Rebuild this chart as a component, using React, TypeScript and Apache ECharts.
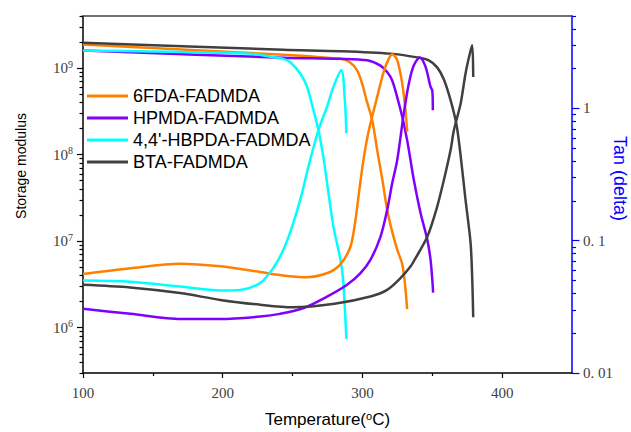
import React, { useEffect, useRef } from 'react';
import * as echarts from 'echarts';

const names = ['6FDA-FADMDA', 'HPMDA-FADMDA', "4,4'-HBPDA-FADMDA", 'BTA-FADMDA'];
const colors = ['#FF8000', '#8000FF', '#00FFFF', '#404040'];

// Storage modulus (Pa) vs temperature (°C)
const fdaStorT = [100, 243, 284, 291, 296.2, 299.8, 302.9, 307, 310.8, 314.3, 317.7, 321.3, 324.9, 328.5, 330.5, 332];
const fdaStor = [1.87e9, 1.43e9, 1.28e9, 1.17e9, 9.4e8, 6.6e8, 4.26e8, 2.5e8, 1.07e8, 5.1e7, 2.31e7, 1.29e7, 8.0e6, 5.4e6, 3.16e6, 1.64e6];
const hpStorT = [100, 243, 284, 303.4, 312.9, 317.7, 321.3, 324.9, 328.5, 332, 334.4, 336.8, 341.6, 346.4, 348.7, 350, 350.6];
const hpStor = [1.6e9, 1.32e9, 1.28e9, 1.23e9, 1.07e9, 9.0e8, 7.2e8, 4.6e8, 2.74e8, 1.47e8, 8.7e7, 5.1e7, 2.12e7, 1.05e7, 6.2e6, 3.6e6, 2.55e6];
const hbStorT = [100, 219.7, 236.2, 243.4, 248.4, 255.6, 260.4, 264.9, 268.5, 272, 274.7, 279.2, 284.2, 286.2, 288.5];
const hbStor = [1.6e9, 1.47e9, 1.34e9, 1.28e9, 1.17e9, 8.6e8, 6.05e8, 3.27e8, 1.92e8, 9.5e7, 4.7e7, 1.49e7, 6.2e6, 3.6e6, 7.4e5];
const btaStorT = [100, 243.4, 284.2, 320, 339.2, 347.5, 353.5, 358.3, 363.1, 367.4, 370.3, 373.8, 377.4, 378.6, 379.3];
const btaStor = [1.96e9, 1.63e9, 1.57e9, 1.47e9, 1.33e9, 1.23e9, 1.02e9, 7.4e8, 4.26e8, 2.19e8, 9.7e7, 3.0e7, 9.6e6, 3.63e6, 1.32e6];

// Tan (delta) vs temperature (°C)
const fdaTanT = [100, 134, 170, 198, 227, 241, 260, 275, 284, 291.4, 295, 297.8, 300.7, 304.3, 310.5, 315.3, 318.9, 321.3, 324.9, 328.5, 330.8, 332];
const fdaTan = [0.056, 0.062, 0.067, 0.064, 0.058, 0.055, 0.053, 0.057, 0.066, 0.09, 0.1435, 0.242, 0.407, 0.662, 1.217, 1.91, 2.38, 2.57, 2.32, 1.54, 0.97, 0.666];
const hpTanT = [100, 134, 170, 198, 227, 241, 258, 275, 289, 298.6, 305.7, 312.9, 317.7, 321.3, 324.9, 329.6, 333.2, 336.8, 341.1, 345.2, 348.7, 350, 350.4];
const hpTan = [0.0306, 0.028, 0.0256, 0.0256, 0.0267, 0.028, 0.031, 0.0379, 0.0464, 0.0569, 0.0716, 0.107, 0.171, 0.272, 0.407, 0.917, 1.54, 2.12, 2.43, 2.06, 1.46, 1.37, 0.97];
const hbTanT = [100, 133.7, 169.5, 198.2, 212.5, 226.9, 236.2, 243.4, 250.5, 256.8, 261.3, 268.5, 274.7, 279.2, 284.9, 287.4, 288.5];
const hbTan = [0.05, 0.049, 0.045, 0.042, 0.0425, 0.048, 0.0623, 0.0853, 0.136, 0.23, 0.362, 0.686, 1.03, 1.455, 1.945, 1.16, 0.651];
const btaTanT = [100, 133.7, 169.5, 198.2, 226.9, 250, 280, 305.7, 317.7, 327.2, 334.4, 337.3, 346.4, 353.5, 358.3, 363.1, 365.5, 370.3, 373.8, 376.9, 378.6, 379.3];
const btaTan = [0.0464, 0.0443, 0.0402, 0.0357, 0.0328, 0.0314, 0.0334, 0.0379, 0.0425, 0.0521, 0.0638, 0.0716, 0.107, 0.181, 0.288, 0.485, 0.686, 1.09, 1.84, 2.6, 3.0, 1.73];

// Axis ticks
const xMajorTicks = [100, 200, 300, 400];
const xMinorTicks = [150, 250, 350];
const leftMajorTicks = [1e6, 1e7, 1e8, 1e9];
const rightMajorTicks = [0.01, 0.1, 1];
const rightTickLabels = ['0. 01', '0. 1', '1'];

const X_MIN = 100, X_MAX = 450;
const L_MIN = 3e5, L_MAX = 4e9;
const R_MIN = 0.01, R_MAX = 5;

const leftMinor: number[] = [];
for (let e = 5; e <= 9; e++) for (let m = 2; m <= 9; m++) {
  const v = m * Math.pow(10, e);
  if (v >= L_MIN && v <= L_MAX) leftMinor.push(v);
}
const rightMinor: number[] = [];
for (let e = -2; e <= 0; e++) for (let m = 2; m <= 9; m++) {
  const v = m * Math.pow(10, e);
  if (v >= R_MIN && v <= R_MAX * 1.0001) rightMinor.push(v);
}

const zip = (xs: number[], ys: number[]) => xs.map((x, i) => [x, ys[i]]);

const storSets = [[fdaStorT, fdaStor], [hpStorT, hpStor], [hbStorT, hbStor], [btaStorT, btaStor]];
const tanSets = [[fdaTanT, fdaTan], [hpTanT, hpTan], [hbTanT, hbTan], [btaTanT, btaTan]];

const labelFont = 'Liberation Serif';
const sansFont = 'Liberation Sans';

export default function App() {
  const ref = useRef<HTMLDivElement>(null);
  useEffect(() => {
    document.body.style.margin = '0';
    const chart = echarts.init(ref.current!, null, { renderer: 'svg' });
    const series: any[] = [];
    storSets.forEach((s, i) => {
      series.push({
        name: names[i], type: 'line', xAxisIndex: 0, yAxisIndex: 0,
        data: zip(s[0], s[1]), showSymbol: false, symbol: 'none', smooth: 0.3,
        lineStyle: { width: 2.5, color: colors[i] }, itemStyle: { color: colors[i] },
      });
    });
    tanSets.forEach((s, i) => {
      series.push({
        name: names[i], type: 'line', xAxisIndex: 0, yAxisIndex: 2,
        data: zip(s[0], s[1]), showSymbol: false, symbol: 'none', smooth: 0.3,
        lineStyle: { width: 2.5, color: colors[i] }, itemStyle: { color: colors[i] },
      });
    });
    const hidden = { show: false };
    const ghostLine = { show: true, onZero: false, lineStyle: { color: 'rgba(0,0,0,0)', width: 0 } };
    const ghostY = (pos: string, min: number, max: number, ticks: number[], len: number, color: string) => ({
      type: 'log', position: pos, min, max, logBase: 10,
      axisLine: ghostLine,
      axisTick: { show: true, inside: false, customValues: ticks, length: len, lineStyle: { color, width: 1.2 } },
      axisLabel: hidden, splitLine: hidden,
    });
    chart.setOption({
      animation: false,
      backgroundColor: '#fff',
      grid: { left: 83, right: 59, top: 16, bottom: 59, containLabel: false, outerBoundsMode: 'none' },
      legend: {
        data: names, orient: 'vertical', left: 87, top: 87, padding: 0,
        icon: 'rect', itemWidth: 41, itemHeight: 3, itemGap: 4,
        textStyle: { fontFamily: sansFont, fontSize: 18, color: '#000', lineHeight: 18 },
      },
      xAxis: [
        {
          type: 'value', position: 'bottom', min: X_MIN, max: X_MAX,
          name: 'Temperature({s|o}C)', nameLocation: 'middle', nameGap: 37,
          nameTextStyle: {
            fontFamily: sansFont, fontSize: 17, color: '#000',
            rich: { s: { fontFamily: sansFont, fontSize: 11, color: '#000', padding: [0, 0, 8, 0] } },
          },
          axisLine: { onZero: false, lineStyle: { color: '#000', width: 1.5 } },
          axisTick: { show: true, customValues: xMinorTicks, length: 3, lineStyle: { color: '#000', width: 1.2 } },
          axisLabel: { customValues: xMajorTicks, margin: 12, fontFamily: labelFont, fontSize: 15, color: '#404040' },
          splitLine: hidden,
        },
        {
          type: 'value', position: 'top', min: X_MIN, max: X_MAX,
          axisLine: { onZero: false, lineStyle: { color: '#444', width: 1.5 } },
          axisTick: hidden, axisLabel: hidden, splitLine: hidden,
        },
        {
          type: 'value', position: 'bottom', min: X_MIN, max: X_MAX,
          axisLine: ghostLine,
          axisTick: { show: true, customValues: xMajorTicks, length: 5, lineStyle: { color: '#000', width: 1.2 } },
          axisLabel: hidden, splitLine: hidden,
        },
      ],
      yAxis: [
        {
          type: 'log', position: 'left', min: L_MIN, max: L_MAX, logBase: 10,
          axisLine: { show: true, onZero: false, lineStyle: { color: '#000', width: 1.5 } },
          axisTick: hidden,
          axisLabel: {
            customValues: leftMajorTicks, margin: 10,
            formatter: (v: number) => `{b|10}{s|${Math.round(Math.log10(v))}}`,
            rich: {
              b: { fontFamily: labelFont, fontSize: 15, color: '#404040' },
              s: { fontFamily: labelFont, fontSize: 10, color: '#404040', padding: [0, 0, 8, 0] },
            },
          },
          splitLine: hidden,
        },
        ghostY('left', L_MIN, L_MAX, leftMajorTicks, 6, '#000'),
        {
          type: 'log', position: 'right', min: R_MIN, max: R_MAX, logBase: 10,
          axisLine: { show: true, onZero: false, lineStyle: { color: '#0000FF', width: 1.5 } },
          axisTick: hidden,
          axisLabel: {
            customValues: rightMajorTicks, margin: 11,
            formatter: (v: number) => {
              const i = rightMajorTicks.findIndex((t) => Math.abs(Math.log10(t) - Math.log10(v)) < 1e-6);
              return i >= 0 ? rightTickLabels[i] : '';
            },
            fontFamily: labelFont, fontSize: 15, color: '#404040',
          },
          splitLine: hidden,
        },
        ghostY('right', R_MIN, R_MAX, rightMajorTicks, 7.5, '#0000FF'),
        ghostY('left', L_MIN, L_MAX, leftMinor, 3.5, '#000'),
        ghostY('right', R_MIN, R_MAX, rightMinor, 4, '#0000FF'),
      ],
      graphic: [
        {
          type: 'text', x: 20.5, y: 166, rotation: Math.PI / 2,
          style: { text: 'Storage modulus', fontFamily: sansFont, fontSize: 14, fill: '#000', align: 'center', verticalAlign: 'middle' },
        },
        {
          type: 'text', x: 620, y: 178.5, rotation: -Math.PI / 2,
          style: { text: 'Tan (delta)', fontFamily: sansFont, fontSize: 18, fill: '#0000FF', align: 'center', verticalAlign: 'middle' },
        },
      ],
      series,
    });
    return () => chart.dispose();
  }, []);
  return <div ref={ref} style={{ width: 631, height: 432 }} />;
}
